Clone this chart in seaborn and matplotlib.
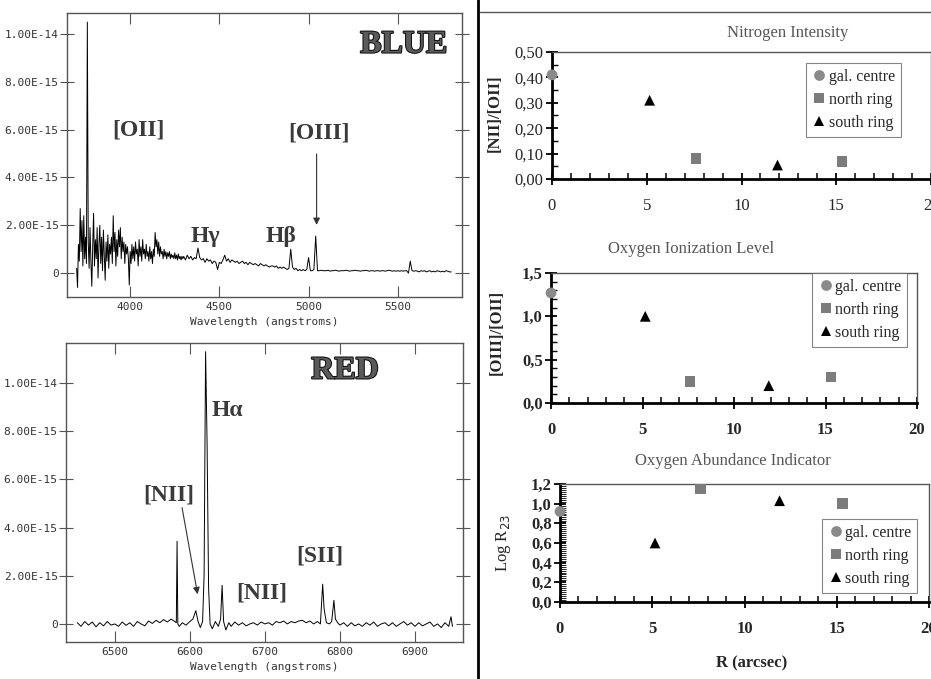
import numpy as np
import pandas as pd
import matplotlib
matplotlib.use('Agg')
import matplotlib.pyplot as plt
import matplotlib.ticker as mticker
import matplotlib.patheffects as pe
from matplotlib.lines import Line2D
import seaborn as sns

# Espectro azul (flujo en unidades de 1e-15).
# Tramo ruidoso 3700-4295 Å muestreado cada 5 Å, resto cada 10 Å hasta 5800 Å.
azul_fino_inicio, azul_fino_paso = 3700, 5
azul_fino_flujo = [
    0.2, -0.6, 1.2, 0.5, 2.7, 0.9, 2.2, 0.3, 2.4, 0.6,
    1.5, 0.4, 10.5, 1.3, 0.2, 1.9, 0.5, -0.55, 1.1, 2.5,
    0.3, 1.4, 0.6, 1.9, -0.2, 1.2, 2.0, 0.4, 1.5, 0.1,
    1.8, 0.7, -0.3, 1.3, 0.5, 1.6, 0.2, 1.2, 0.8, 1.5,
    0.4, 2.4, 0.9, 1.7, 0.3, 1.4, 0.7, 1.8, 1.1, 1.9,
    0.6, 1.5, 0.9, 1.3, 0.4, 1.2, 0.8, 1.1, 0.6, -0.5,
    0.9, 0.4, 1.2, 0.6, 1.1, 0.5, 1.3, 0.8, 1.0, 0.3,
    1.4, 0.7, 1.1, 0.5, 1.4, 0.8, 1.0, 0.6, 1.2, 0.7,
    0.9, 0.5, 1.1, 0.6, 0.9, 0.4, 1.0, 0.7, 1.7, 1.1,
    1.4, 0.8, 1.3, 0.7, 1.1, 0.8, 0.9, 0.6, 1.0, 0.7,
    0.9, 0.6, 0.85, 0.7, 0.9, 0.6, 0.8, 0.65, 0.75, 0.6,
    0.85, 0.6, 0.75, 0.55, 0.8, 0.6, 0.7, 0.55, 0.7, 0.6,
]
azul_grueso_inicio, azul_grueso_paso = 4300, 10
azul_grueso_flujo = [
    0.7, 0.55, 0.75, 0.6, 0.7, 0.55, 0.65, 0.6, 1.05, 0.65,
    0.55, 0.6, 0.45, 0.6, 0.5, 0.55, 0.4, 0.5, 0.45, 0.15,
    0.45, 0.4, 0.55, 0.75, 0.5, 0.6, 0.45, 0.55, 0.5, 0.45,
    0.5, 0.4, 0.45, 0.5, 0.4, 0.45, 0.35, 0.45, 0.4, 0.35,
    0.4, 0.35, 0.3, 0.4, 0.35, 0.3, 0.35, 0.3, 0.25, 0.3,
    0.3, 0.25, 0.3, 0.2, 0.25, 0.2, 0.25, 0.2, 0.15, 0.2,
    1.0, 0.25, 0.15, 0.2, 0.1, 0.15, 0.1, 0.15, 0.1, 0.15,
    0.65, 0.1, 0.1, 0.15, 1.55, 0.1, 0.1, 0.12, 0.1, 0.1,
    0.1, 0.12, 0.08, 0.1, 0.1, 0.12, 0.1, 0.08, 0.1, 0.1,
    0.1, 0.12, 0.1, 0.08, 0.1, 0.1, 0.12, 0.1, 0.1, 0.08,
    0.1, 0.1, 0.12, 0.1, 0.08, 0.1, 0.1, 0.08, 0.1, 0.1,
    0.08, 0.1, 0.1, 0.08, 0.1, 0.12, 0.1, 0.08, 0.1, 0.08,
    0.1, 0.08, 0.1, 0.08, 0.1, 0.1, 0.0, 0.5, 0.1, 0.08,
    0.1, 0.08, 0.05, 0.1, 0.08, 0.1, 0.05, 0.08, 0.1, 0.05,
    0.08, 0.05, 0.1, 0.08, 0.05, 0.08, 0.05, 0.1, 0.08, 0.05,
    0.05,
]

# Espectro rojo: longitudes de onda y flujo (1e-15)
rojo_onda = [
    6450, 6455, 6460, 6465, 6470, 6475, 6480, 6485, 6490, 6495,
    6500, 6505, 6510, 6515, 6520, 6525, 6530, 6535, 6540, 6545,
    6550, 6555, 6560, 6565, 6570, 6575, 6580, 6582, 6583, 6584,
    6586, 6590, 6595, 6600, 6604, 6608, 6611, 6614, 6617, 6619,
    6621, 6623, 6625, 6627, 6630, 6634, 6638, 6641, 6643, 6645,
    6648, 6652, 6655, 6660, 6665, 6670, 6675, 6680, 6685, 6690,
    6695, 6700, 6705, 6710, 6715, 6720, 6725, 6730, 6735, 6740,
    6745, 6750, 6755, 6760, 6765, 6770, 6774, 6777, 6779, 6782,
    6786, 6789, 6792, 6794, 6797, 6800, 6805, 6810, 6815, 6820,
    6825, 6830, 6835, 6840, 6845, 6850, 6855, 6860, 6865, 6870,
    6875, 6880, 6885, 6890, 6895, 6900, 6905, 6910, 6915, 6920,
    6925, 6930, 6935, 6940, 6945, 6948, 6950,
]
rojo_flujo = [
    0.05, -0.1, 0.1, -0.05, 0.08, -0.12, 0.05, -0.08, 0.1, -0.05,
    0.0, -0.1, 0.08, -0.06, 0.05, -0.1, 0.1, 0.0, -0.08, 0.12,
    0.02, 0.15, 0.05, 0.18, 0.08, 0.2, 0.1, 0.05, 3.43, 0.0,
    -0.1, 0.05, -0.05, 0.1, 0.2, 0.55, 0.1, -0.15, 0.1, 2.0,
    11.3, 7.5, 1.5, 0.0, -0.2, 0.1, -0.1, 0.2, 1.6, 0.1,
    -0.25, 0.05, -0.1, 0.08, -0.05, 0.05, -0.08, 0.0, 0.05, -0.05,
    0.08, 0.0, 0.05, -0.05, 0.1, 0.05, 0.12, 0.0, 0.1, 0.05,
    0.12, 0.15, 0.05, 0.12, 0.0, 0.1, 0.0, 1.65, 0.6, 0.05,
    0.0, 0.1, 0.98, 0.2, 0.05, -0.05, 0.05, -0.1, 0.05, -0.08,
    0.0, -0.1, 0.05, -0.05, 0.08, -0.1, 0.0, 0.05, -0.08, 0.05,
    -0.1, 0.0, 0.1, -0.05, 0.05, -0.1, 0.05, -0.08, 0.0, 0.08,
    -0.1, 0.0, -0.15, 0.05, -0.1, 0.3, -0.1,
]

# Cocientes de líneas frente al radio
regiones = ['gal. centre', 'south ring', 'north ring', 'south ring', 'north ring']
radio_R = [0.0, 5.15, 7.6, 11.9, 15.3]
nitrogeno = [0.41, 0.31, 0.08, 0.055, 0.07]
ionizacion = [1.27, 1.0, 0.25, 0.2, 0.3]
abundancia = [0.92, 0.6, 1.15, 1.03, 1.0]

orden = ['gal. centre', 'north ring', 'south ring']
colores = {'gal. centre': '#8a8a8a', 'north ring': '#7c7c7c', 'south ring': 'black'}
marcadores = {'gal. centre': 'o', 'north ring': 's', 'south ring': '^'}

sns.set_style('ticks')
plt.rcParams['font.family'] = ['DejaVu Sans']

W, H = 931, 679
fig = plt.figure(figsize=(W / 100, H / 100), dpi=100)


def caja(izq, arriba, der, abajo):
    return [izq / W, 1 - abajo / H, (der - izq) / W, (abajo - arriba) / H]


mono = 'DejaVu Sans Mono'
serif = 'Liberation Serif'


def estilo_espectro(ax, xticks, xlim, ylim):
    ax.set_xlim(xlim)
    ax.set_ylim(ylim)
    ax.set_xticks(xticks)
    ax.set_xticklabels([str(t) for t in xticks], fontfamily=mono, fontsize=8, color='#333')
    yt = [0, 2e-15, 4e-15, 6e-15, 8e-15, 1e-14]
    ax.set_yticks(yt)
    ax.set_yticklabels(['0', '2.00E-15', '4.00E-15', '6.00E-15', '8.00E-15', '1.00E-14'],
                       fontfamily=mono, fontsize=8, color='#333')
    ax.tick_params(axis='x', direction='in', length=8, top=True, bottom=True, color='#555')
    ax.tick_params(axis='y', direction='inout', length=10, left=True, right=True, color='#555',
                   pad=1)
    for s in ax.spines.values():
        s.set_color('#555')
        s.set_linewidth(1)
    ax.set_xlabel('Wavelength (angstroms)', fontfamily=mono, fontsize=8, color='#333', labelpad=4)
    ax.set_ylabel('')


def etiqueta(ax, x, y, texto, size=17, ha='center'):
    ax.text(x, y, texto, fontsize=size, fontweight='bold', fontfamily=serif,
            color='#3a3a3a', ha=ha, va='center')


def rotulo_banda(ax, x, y, texto):
    ax.text(x, y, texto, fontsize=23, fontweight='bold', fontfamily=serif,
            color='#5a5a5a', ha='center', va='center',
            path_effects=[pe.withStroke(linewidth=1.5, foreground='#111')])


# -----------------------------------------------------------
# Espectro azul
# -----------------------------------------------------------
ax_b = fig.add_axes(caja(67, 13, 462, 297))
onda_b = np.concatenate([
    azul_fino_inicio + azul_fino_paso * np.arange(len(azul_fino_flujo)),
    azul_grueso_inicio + azul_grueso_paso * np.arange(len(azul_grueso_flujo)),
])
flujo_b = np.array(azul_fino_flujo + azul_grueso_flujo) * 1e-15
sns.lineplot(x=onda_b, y=flujo_b, ax=ax_b, color='black', lw=0.7, estimator=None)
estilo_espectro(ax_b, [4000, 4500, 5000, 5500], (3646, 5860), (-1.0e-15, 10.88e-15))
etiqueta(ax_b, 4045, 5.98e-15, '[OII]')
etiqueta(ax_b, 5056, 5.86e-15, '[OIII]')
etiqueta(ax_b, 4421, 1.55e-15, 'Hγ')
etiqueta(ax_b, 4848, 1.55e-15, 'Hβ')
rotulo_banda(ax_b, 5534, 9.54e-15, 'BLUE')
ax_b.annotate('', xy=(5045, 1.9e-15), xytext=(5045, 5.1e-15),
              arrowprops=dict(arrowstyle='-|>', color='#333', lw=0.8, mutation_scale=10))

# -----------------------------------------------------------
# Espectro rojo
# -----------------------------------------------------------
ax_r = fig.add_axes(caja(66, 343, 463, 642))
sns.lineplot(x=rojo_onda, y=np.array(rojo_flujo) * 1e-15, ax=ax_r, color='black', lw=0.7,
             estimator=None)
estilo_espectro(ax_r, [6500, 6600, 6700, 6800, 6900], (6435, 6964), (-0.75e-15, 11.66e-15))
rotulo_banda(ax_r, 6807, 10.5e-15, 'RED')
etiqueta(ax_r, 6629, 8.84e-15, 'Hα', ha='left')
etiqueta(ax_r, 6572, 5.35e-15, '[NII]')
etiqueta(ax_r, 6696, 1.29e-15, '[NII]')
etiqueta(ax_r, 6773, 2.82e-15, '[SII]')
ax_r.annotate('', xy=(6611, 1.12e-15), xytext=(6589, 4.94e-15),
              arrowprops=dict(arrowstyle='-|>', color='#333', lw=0.8, mutation_scale=10))

# -----------------------------------------------------------
# Paneles de cocientes
# -----------------------------------------------------------
df = pd.DataFrame({'R': radio_R, 'region': regiones, 'N': nitrogeno,
                   'ion': ionizacion, 'abund': abundancia})


def panel(rect, columna, ylim, mayor, menor, decimales, negrita, titulo, pos_titulo,
          ylabel, peso_ylabel, pos_ylabel, anclaje, grosor_menor=1.0):
    ax = fig.add_axes(caja(*rect))
    sns.scatterplot(data=df, x='R', y=columna, hue='region', style='region',
                    hue_order=orden, style_order=orden, palette=colores,
                    markers=marcadores, s=60, linewidth=0, ax=ax, legend=True, zorder=5)
    for col in ax.collections:
        col.set_clip_on(False)
    ax.set_xlim(0, 20)
    ax.set_ylim(*ylim)
    ax.xaxis.set_major_locator(mticker.MultipleLocator(5))
    ax.xaxis.set_minor_locator(mticker.MultipleLocator(1))
    ax.yaxis.set_major_locator(mticker.MultipleLocator(mayor))
    ax.yaxis.set_minor_locator(mticker.MultipleLocator(menor))
    ax.yaxis.set_major_formatter(mticker.FuncFormatter(
        lambda v, p: f'{v:.{decimales}f}'.replace('.', ',')))
    peso = 'bold' if negrita else 'normal'
    for lab in ax.get_xticklabels() + ax.get_yticklabels():
        lab.set_fontfamily(serif)
        lab.set_fontweight(peso)
        lab.set_fontsize(12)
    ax.tick_params(axis='both', which='major', direction='inout', length=8, width=1.3,
                   color='black')
    ax.tick_params(axis='x', which='minor', direction='in', length=4, width=1.1,
                   color='black')
    ax.tick_params(axis='y', which='minor', direction='in', length=4, width=grosor_menor,
                   color='black')
    ax.tick_params(axis='x', pad=10)
    ax.tick_params(axis='y', pad=2)
    for lado in ['left', 'bottom']:
        ax.spines[lado].set_linewidth(2)
        ax.spines[lado].set_color('black')
    for lado in ['top', 'right']:
        ax.spines[lado].set_color('#555')
        ax.spines[lado].set_linewidth(1)
    ax.set_xlabel('')
    ax.set_ylabel(ylabel, fontfamily=serif, fontsize=12, fontweight=peso_ylabel)
    ax.yaxis.set_label_coords(*pos_ylabel)
    handles, labels = ax.get_legend_handles_labels()
    ax.get_legend().remove()
    leg = ax.legend(handles, labels, loc='upper right', bbox_to_anchor=anclaje,
                    frameon=True, fancybox=False, prop={'family': serif, 'size': 11.5},
                    handletextpad=0.1, labelspacing=0.45, borderpad=0.35,
                    handlelength=1.0, borderaxespad=0)
    leg.get_frame().set_edgecolor('#666')
    leg.get_frame().set_linewidth(0.8)
    fig.text(pos_titulo[0] / W, 1 - pos_titulo[1] / H, titulo, fontfamily=serif,
             fontsize=12, color='#555', ha='center', va='center')
    return ax


panel((552, 52, 931, 179), 'N', (0, 0.5), 0.1, 0.05, 2, False,
      'Nitrogen Intensity', (788, 33), '[NII]/[OII]', 'bold', (-0.13, 0.52),
      (0.92, 0.913))
panel((551, 273, 917, 403), 'ion', (0, 1.5), 0.5, 0.1, 1, True,
      'Oxygen Ionization Level', (691, 249), '[OIII]/[OII]', 'bold', (-0.126, 0.546),
      (0.973, 1.0))
ax_a = panel((560, 484, 929, 602), 'abund', (0, 1.2), 0.2, 0.02, 1, True,
             'Oxygen Abundance Indicator', (733, 461), 'Log R$_{23}$', 'normal',
             (-0.127, 0.5), (0.967, 0.703), grosor_menor=0.6)
ax_a.set_xlabel('R (arcsec)', fontfamily=serif, fontsize=12, fontweight='bold')
ax_a.xaxis.set_label_coords(0.518, -0.45)

# Separadores del montaje
fig.add_artist(Line2D([478 / W, 478 / W], [0, 1], color='black', lw=2))
fig.add_artist(Line2D([480 / W, 1], [1 - 12 / H, 1 - 12 / H], color='#555', lw=1))

plt.savefig('out.png', dpi=100)
plt.close()
print("Gráfico guardado: out.png")
